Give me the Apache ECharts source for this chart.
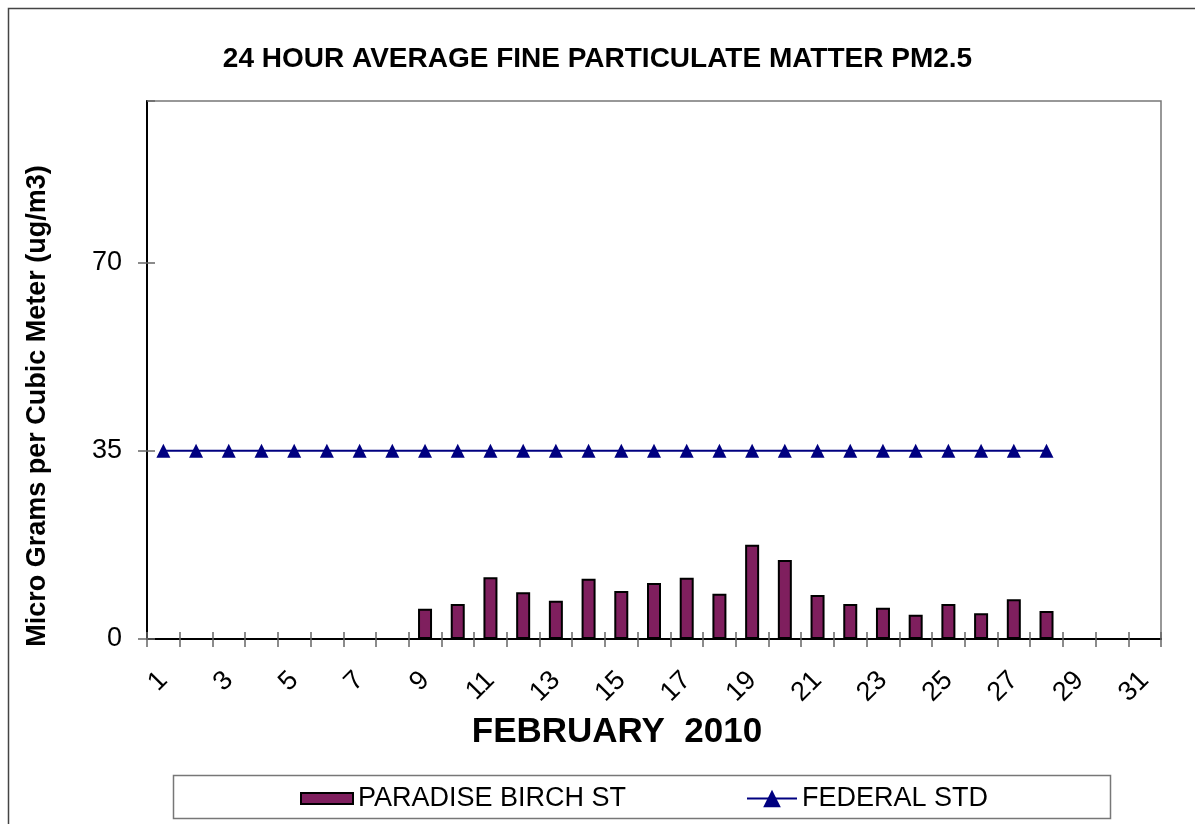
<!DOCTYPE html>
<html>
<head>
<meta charset="utf-8">
<script src="https://cdn.jsdelivr.net/npm/echarts@6/dist/echarts.min.js"></script>
<style>
  html, body { margin: 0; padding: 0; background: #fff; }
  #chart { width: 1195px; height: 824px; }
</style>
</head>
<body>
<div id="chart"></div>
<script>
// days of February 2010
const days = [];
for (let d = 1; d <= 31; d++) days.push(String(d));

// PM2.5 24h average, ug/m3 (no data before the 9th)
const paradiseBirch = [null, null, null, null, null, null, null, null,
  5.6, 6.5, 11.5, 8.7, 7.1, 11.2, 8.9, 10.4, 11.4, 8.4, 17.5, 14.7,
  8.2, 6.5, 5.8, 4.5, 6.5, 4.8, 7.4, 5.2];

// federal standard, 35 ug/m3, days 1..28
const federalStd = [35, 35, 35, 35, 35, 35, 35, 35, 35, 35, 35, 35, 35, 35,
  35, 35, 35, 35, 35, 35, 35, 35, 35, 35, 35, 35, 35, 35];

const yTicks = [0, 35, 70];

const font = 'Liberation Sans, Arial, sans-serif';
const chart = echarts.init(document.getElementById('chart'));

const tickStyle = { color: '#666', width: 1.5 };
const yBase = { type: 'value', min: 0, max: 100, interval: 35, position: 'left' };
const xBase = { type: 'category', data: days, position: 'bottom', boundaryGap: true };

chart.setOption({
  animation: false,
  backgroundColor: '#fff',
  title: {
    text: '24 HOUR AVERAGE FINE PARTICULATE MATTER PM2.5',
    left: 'center',
    top: 40,
    textStyle: { fontFamily: font, fontSize: 28, fontWeight: 'bold', color: '#000' }
  },
  grid: {
    left: 147, right: 34, top: 101, bottom: 185,
    show: true, borderColor: '#777', borderWidth: 1.5
  },
  // two legends so the line symbol can be bigger than the bar swatch
  legend: [
    {
      left: 300, top: 785, padding: 0,
      itemWidth: 52, itemHeight: 11,
      textStyle: { fontFamily: font, fontSize: 27, color: '#000' },
      data: [{ name: 'PARADISE BIRCH ST', icon: 'rect' }]
    },
    {
      left: 746, top: 785, padding: 0,
      itemWidth: 50, itemHeight: 22,
      textStyle: { fontFamily: font, fontSize: 27, color: '#000' },
      data: ['FEDERAL STD']
    }
  ],
  graphic: [
    { type: 'rect', shape: { x: 8.5, y: 8.5, width: 1300, height: 1000 },
      style: { fill: null, stroke: '#444', lineWidth: 1.5 }, silent: true },
    { type: 'rect', shape: { x: 173.5, y: 775.5, width: 937, height: 43 },
      style: { fill: null, stroke: '#777', lineWidth: 1.5 }, silent: true }
  ],
  xAxis: [
    Object.assign({}, xBase, {
      name: 'FEBRUARY  2010',
      nameLocation: 'middle',
      nameGap: 76,
      nameTextStyle: { fontFamily: font, fontSize: 35, fontWeight: 'bold', color: '#000', padding: [0, 74, 0, 0] },
      axisLine: { show: true, lineStyle: { color: '#000', width: 2 } },
      axisTick: { show: true, interval: 0, length: 8, lineStyle: tickStyle },
      axisLabel: { interval: 1, rotate: 45, margin: 37, fontFamily: font, fontSize: 27, color: '#000' }
    }),
    Object.assign({}, xBase, {
      axisLine: { show: false },
      axisTick: { show: true, interval: 0, inside: true, length: 7, lineStyle: tickStyle },
      axisLabel: { show: false }
    })
  ],
  yAxis: [
    Object.assign({}, yBase, {
      name: 'Micro Grams per Cubic Meter (ug/m3)',
      nameLocation: 'middle',
      nameGap: 96,
      nameTextStyle: { fontFamily: font, fontSize: 27, fontWeight: 'bold', color: '#000', padding: [0, 72, 0, 0] },
      axisLine: { show: true, lineStyle: { color: '#000', width: 2 } },
      axisTick: { show: true, length: 9, lineStyle: tickStyle },
      axisLabel: {
        margin: 25, fontFamily: font, fontSize: 27, color: '#000', showMaxLabel: false,
        formatter: v => (yTicks.indexOf(v) >= 0 ? String(v) : '')
      },
      splitLine: { show: false }
    }),
    Object.assign({}, yBase, {
      axisLine: { show: false },
      axisTick: { show: true, inside: true, length: 8, lineStyle: tickStyle },
      axisLabel: { show: false },
      splitLine: { show: false }
    })
  ],
  series: [
    {
      name: 'PARADISE BIRCH ST',
      type: 'bar',
      data: paradiseBirch,
      barWidth: 14,
      itemStyle: { color: '#7f1f5e', borderColor: '#000', borderWidth: 2 }
    },
    {
      name: 'FEDERAL STD',
      type: 'line',
      data: federalStd,
      symbol: 'triangle',
      symbolSize: 14,
      lineStyle: { color: '#000080', width: 2 },
      itemStyle: { color: '#000080' }
    }
  ]
});
</script>
</body>
</html>
